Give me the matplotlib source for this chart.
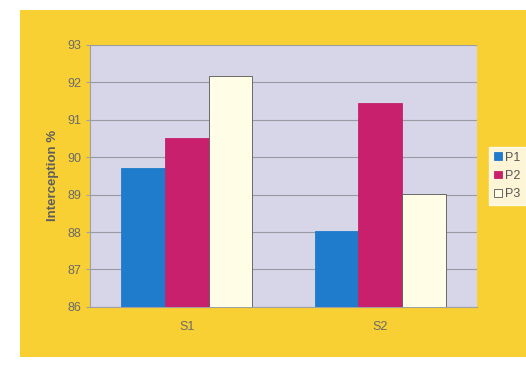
import matplotlib.pyplot as plt
import numpy as np
from matplotlib.patches import Rectangle

plt.rcParams['font.family'] = ['Liberation Sans', 'DejaVu Sans']

categories = ['S1', 'S2']
series = ['P1', 'P2', 'P3']
p1 = [89.7, 88.03]
p2 = [90.5, 91.45]
p3 = [92.17, 89.02]
colors = ['#1f7bcc', '#c8206c', '#fffde6']

fig = plt.figure(figsize=(5.26, 3.68), dpi=100)
fig.patch.set_facecolor('white')
# yellow frame behind the chart
fig.patches.append(Rectangle((0.038, 0.03), 0.962, 0.943, transform=fig.transFigure,
                             facecolor='#f8d034', edgecolor='none', zorder=-10))

ax = fig.add_axes([0.171, 0.166, 0.736, 0.712])
ax.set_facecolor('#d6d6e8')

x = np.arange(len(categories))
w = 0.226
for i, (vals, c) in enumerate(zip([p1, p2, p3], colors)):
    ax.bar(x + (i - 1) * w, [v - 86 for v in vals], w, bottom=86, color=c,
           edgecolor='#555555' if i == 2 else c, linewidth=0.6, label=series[i], zorder=3)

ax.set_xlim(-0.5, 1.5)
ax.set_ylim(86, 93)
ax.set_yticks(range(86, 94))
ax.set_xticks(x)
ax.set_xticklabels(categories)
ax.grid(axis='y', color='#9a9aa2', linewidth=0.8, zorder=1)
for s in ['top', 'right']:
    ax.spines[s].set_visible(False)
ax.spines['left'].set_color('#a0a0a0')
ax.spines['bottom'].set_color('#a0a0a0')
ax.tick_params(axis='both', colors='#a0a0a0', labelsize=9, length=3)
ax.tick_params(axis='x', length=0, pad=10)
for lbl in ax.get_xticklabels() + ax.get_yticklabels():
    lbl.set_color('#6a6a6a')
ax.set_ylabel('Interception %', fontsize=9.5, fontweight='bold', color='#5e5e5e', labelpad=6)

leg = ax.legend(loc='center left', bbox_to_anchor=(1.015, 0.5), frameon=True, fontsize=9,
                handlelength=0.6, handleheight=0.6, handletextpad=0.3, borderpad=0.4,
                labelspacing=0.5, fancybox=False)
leg.get_frame().set_facecolor('white')
leg.get_frame().set_edgecolor('white')
for t in leg.get_texts():
    t.set_color('#555555')

fig.savefig('out.png', dpi=100)
